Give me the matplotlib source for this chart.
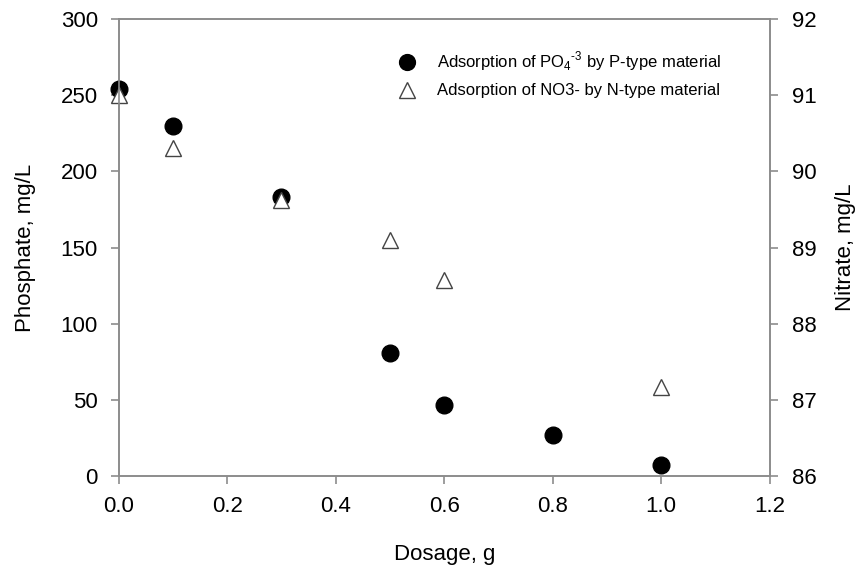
import matplotlib
matplotlib.use('Agg')
import matplotlib.pyplot as plt

plt.rcParams['font.family'] = ['Liberation Sans', 'DejaVu Sans']
plt.rcParams['mathtext.fontset'] = 'custom'
plt.rcParams['mathtext.rm'] = 'Liberation Sans'

# data
dosage_p = [0.0, 0.1, 0.3, 0.5, 0.6, 0.8, 1.0]
phosphate = [254, 230, 183, 81, 47, 27, 7.5]

dosage_n = [0.0, 0.1, 0.3, 0.5, 0.6, 1.0]
nitrate = [91.0, 90.3, 89.63, 89.1, 88.57, 87.17]

xticks = [0.0, 0.2, 0.4, 0.6, 0.8, 1.0, 1.2]
left_ticks = [0, 50, 100, 150, 200, 250, 300]
right_ticks = [86, 87, 88, 89, 90, 91, 92]

axcol = '#8c8c8c'
fs = 16

fig = plt.figure(figsize=(8.6, 5.71), dpi=100)
ax = fig.add_axes([0.138, 0.166, 0.757, 0.801])
ax2 = ax.twinx()

p1, = ax.plot(dosage_p, phosphate, 'o', ms=12, color='black', zorder=3, clip_on=False,
              label='Adsorption of PO$_{\\mathregular{4}}$$^{\\text{-3}}$ by P-type material')
p2, = ax2.plot(dosage_n, nitrate, '^', ms=12, mfc='white', mec='#444444', mew=1, clip_on=False,
               label='Adsorption of NO3- by N-type material')

ax.set_xlim(0, 1.2)
ax.set_ylim(0, 300)
ax2.set_ylim(86, 92)
ax.set_xticks(xticks)
ax.set_xticklabels(['%.1f' % t for t in xticks])
ax.set_yticks(left_ticks)
ax2.set_yticks(right_ticks)

for a in (ax, ax2):
    for s in a.spines.values():
        s.set_color(axcol)
        s.set_linewidth(1.2)
    a.tick_params(direction='out', length=6, width=1.2, color=axcol,
                  labelsize=fs, labelcolor='black')
ax.tick_params(axis='y', pad=9)
ax.tick_params(axis='x', pad=8)
ax2.tick_params(axis='y', pad=10)

ax.set_xlabel('Dosage, g', fontsize=fs, labelpad=20)
ax.set_ylabel('Phosphate, mg/L', fontsize=fs, labelpad=18)
ax2.set_ylabel('Nitrate, mg/L', fontsize=fs, labelpad=13)

ax.legend(handles=[p1, p2], loc='upper left', bbox_to_anchor=(0.395, 0.965),
          frameon=False, fontsize=12, handletextpad=0.8, labelspacing=0.6,
          markerscale=0.95)

fig.savefig('out.png', dpi=100)
